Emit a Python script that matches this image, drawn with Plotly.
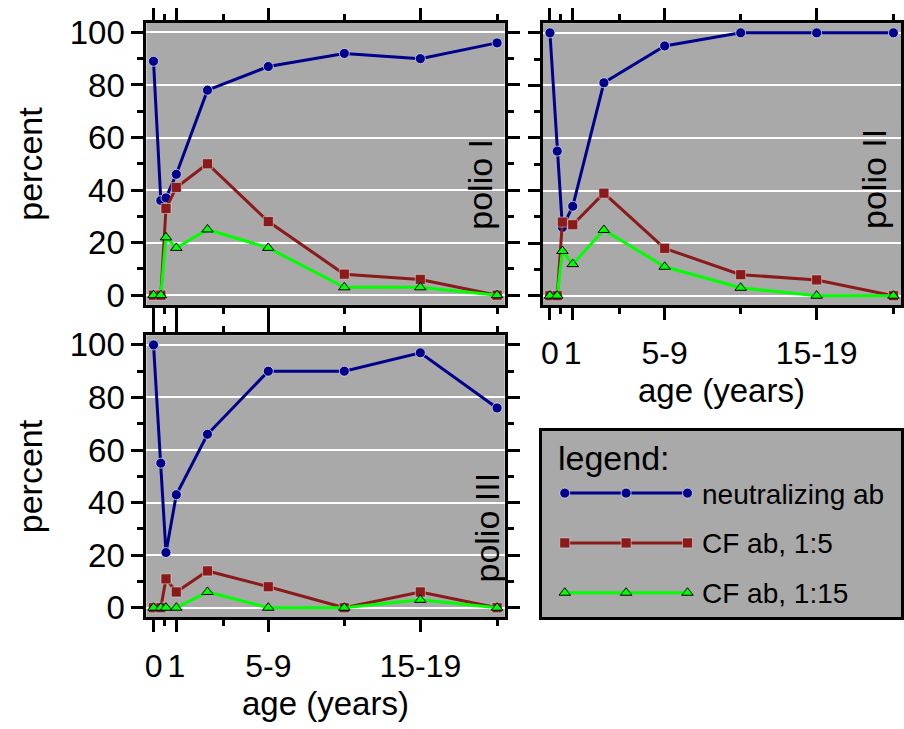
import plotly.graph_objects as go

# ---------------- data ----------------
age_pos = [0, 0.48, 0.82, 1.5, 3.55, 7.55, 12.55, 17.55, 22.6]
tick_pos = [0, 1.5, 7.55, 17.55]
tick_text = ["0", "1", "5-9", "15-19"]
minor_tick_pos = [0.72, 4.6, 12.55, 22.6]

series_names = ["neutralizing ab", "CF ab, 1:5", "CF ab, 1:15"]
panel_names = ["polio I", "polio II", "polio III"]

polio1_neut = [89, 36, 37, 46, 78, 87, 92, 90, 96]
polio1_cf5 = [0, 0, 33, 41, 50, 28, 8, 6, 0]
polio1_cf15 = [0, 0, 22, 18, 25, 18, 3, 3, 0]

polio2_neut = [100, 55, 26, 34, 81, 95, 100, 100, 100]
polio2_cf5 = [0, 0, 28, 27, 39, 18, 8, 6, 0]
polio2_cf15 = [0, 0, 17, 12, 25, 11, 3, 0, 0]

polio3_neut = [100, 55, 21, 43, 66, 90, 90, 97, 76]
polio3_cf5 = [0, 0, 11, 6, 14, 8, 0, 6, 0]
polio3_cf15 = [0, 0, 0, 0, 6, 0, 0, 3, 0]

# ---------------- style ----------------
W, H = 904, 729
FONT = "Liberation Sans, Arial, sans-serif"
BG = "#A9A9A9"
COLORS = ["#00008C", "#8B1A1A", "#00FF00"]
SYMBOLS = ["circle", "square", "triangle-up"]
SIZES = [10, 10, 10]
MLINE = [dict(color="rgba(235,235,235,0.7)", width=1),
         dict(color="rgba(235,235,235,0.5)", width=1),
         dict(color="black", width=1)]


def xd(a, b):
    return [a / W, b / W]


def yd(top, bottom):
    return [1 - bottom / H, 1 - top / H]


panel_data = [
    [polio1_neut, polio1_cf5, polio1_cf15],
    [polio2_neut, polio2_cf5, polio2_cf15],
    [polio3_neut, polio3_cf5, polio3_cf15],
]

fig = go.Figure()

for p, series in enumerate(panel_data):
    ax = "" if p == 0 else str(p + 1)
    for s, vals in enumerate(series):
        fig.add_trace(go.Scatter(
            x=age_pos, y=vals, mode="lines+markers", name=series_names[s],
            xaxis="x" + ax, yaxis="y" + ax, showlegend=False,
            line=dict(color=COLORS[s], width=3),
            marker=dict(symbol=SYMBOLS[s], size=SIZES[s], color=COLORS[s], line=MLINE[s]),
            cliponaxis=False,
        ))

tickcommon = dict(ticks="outside", tickwidth=2.5, tickcolor="black",
                  showline=True, linecolor="black", linewidth=3, zeroline=False)

xcommon = dict(range=[-0.47, 23.1], tickmode="array", tickvals=tick_pos, ticktext=tick_text,
               ticklen=12, showgrid=False, mirror="allticks",
               minor=dict(tickmode="array", tickvals=minor_tick_pos, ticks="outside",
                          ticklen=6, tickwidth=2.5, tickcolor="black", showgrid=False),
               tickfont=dict(family=FONT, size=32, color="black"), **tickcommon)

ycommon = dict(range=[-3.7, 103.7], tickmode="linear", tick0=0, dtick=20,
               ticklen=12, showgrid=True, gridcolor="white", gridwidth=2,
               minor=dict(tick0=0, dtick=10, ticks="outside", ticklen=6, tickwidth=2.5,
                          tickcolor="black", showgrid=False),
               tickfont=dict(family=FONT, size=33, color="black"), **tickcommon)

layout = dict(
    width=W, height=H, autosize=False, margin=dict(l=0, r=0, t=0, b=0),
    paper_bgcolor="white", plot_bgcolor=BG, showlegend=False,
    font=dict(family=FONT, color="black"),
    xaxis=dict(domain=xd(144.7, 503.8), anchor="y", showticklabels=False,
               ticklabelstandoff=6, **xcommon),
    yaxis=dict(domain=yd(15, 304), anchor="x", mirror="allticks", **ycommon),
    xaxis2=dict(domain=xd(542, 901), anchor="y2", ticklabelstandoff=5, **xcommon),
    # right-hand ticks of this panel would run past the page edge, so mirror the line only
    yaxis2=dict(domain=yd(15.5, 304.5), anchor="x2", showticklabels=False, mirror=True, **ycommon),
    xaxis3=dict(domain=xd(144.7, 503.8), anchor="y3", ticklabelstandoff=6, **xcommon),
    yaxis3=dict(domain=yd(335, 624), anchor="x3", mirror="allticks", **ycommon),
    # legend box as its own frame
    xaxis4=dict(domain=xd(541, 901), anchor="y4", range=[0, 360], showline=True,
                linecolor="black", linewidth=3, mirror=True, ticks="",
                showticklabels=False, showgrid=False, zeroline=False),
    yaxis4=dict(domain=yd(432.7, 624), anchor="x4", range=[191.3, 0], showline=True,
                linecolor="black", linewidth=3, mirror=True, ticks="",
                showticklabels=False, showgrid=False, zeroline=False),
)
fig.update_layout(**layout)

# legend samples (in legend-box pixel units)
leg_x = [23, 84.5, 146]
leg_rows = [64, 115, 166]
for s in range(3):
    fig.add_trace(go.Scatter(
        x=leg_x, y=[leg_rows[s]] * 3, mode="lines+markers", xaxis="x4", yaxis="y4",
        showlegend=False, hoverinfo="skip",
        line=dict(color=COLORS[s], width=3),
        marker=dict(symbol=SYMBOLS[s], size=SIZES[s], color=COLORS[s], line=MLINE[s]),
        cliponaxis=False,
    ))
    fig.add_annotation(x=160, y=leg_rows[s] + 1, xref="x4", yref="y4", text=series_names[s],
                       showarrow=False, xanchor="left", yanchor="middle", borderpad=0,
                       font=dict(family=FONT, size=28, color="black"))
fig.add_annotation(x=15, y=28, xref="x4", yref="y4", text="legend:", showarrow=False,
                   xanchor="left", yanchor="middle", borderpad=0,
                   font=dict(family=FONT, size=34, color="black"))

# axis titles
for (xp, yp, txt, ang, fs) in [(28, 159.5, "percent", -90, 34), (28, 479.5, "percent", -90, 34),
                               (721.5, 392, "age (years)", 0, 33), (324.5, 712, "age (years)", 0, 33)]:
    fig.add_annotation(x=xp / W, y=1 - yp / H, xref="paper", yref="paper", text=txt,
                       textangle=ang, showarrow=False, xanchor="center", yanchor="middle",
                       borderpad=0, font=dict(family=FONT, size=fs, color="black"))

# panel labels: gray patch hiding the gridlines behind the text, then the text
label_specs = [
    (479, 180, panel_names[0], (453, 128, 502, 234)),
    (874, 175, panel_names[1], (853, 122, 899, 234)),
    (486, 532, panel_names[2], (453, 468, 502, 595)),
]
for (xp, yp, txt, (bx0, by0, bx1, by1)) in label_specs:
    fig.add_shape(type="rect", xref="paper", yref="paper", layer="between",
                  x0=bx0 / W, x1=bx1 / W, y0=1 - by1 / H, y1=1 - by0 / H,
                  fillcolor=BG, line=dict(width=0))
    fig.add_annotation(x=xp / W, y=1 - yp / H, xref="paper", yref="paper", text=txt,
                       textangle=-90, showarrow=False, xanchor="center", yanchor="middle",
                       borderpad=0, font=dict(family=FONT, size=34, color="black"))

clip_js = (
    "document.documentElement.style.overflow='hidden';"
    "document.body.style.margin='0px';document.body.style.overflow='hidden';"
    "var gd=document.getElementById('{plot_id}');gd.style.overflow='hidden';"
)
fig.write_html("out.html", config={"displayModeBar": False, "responsive": False},
               post_script=clip_js)
